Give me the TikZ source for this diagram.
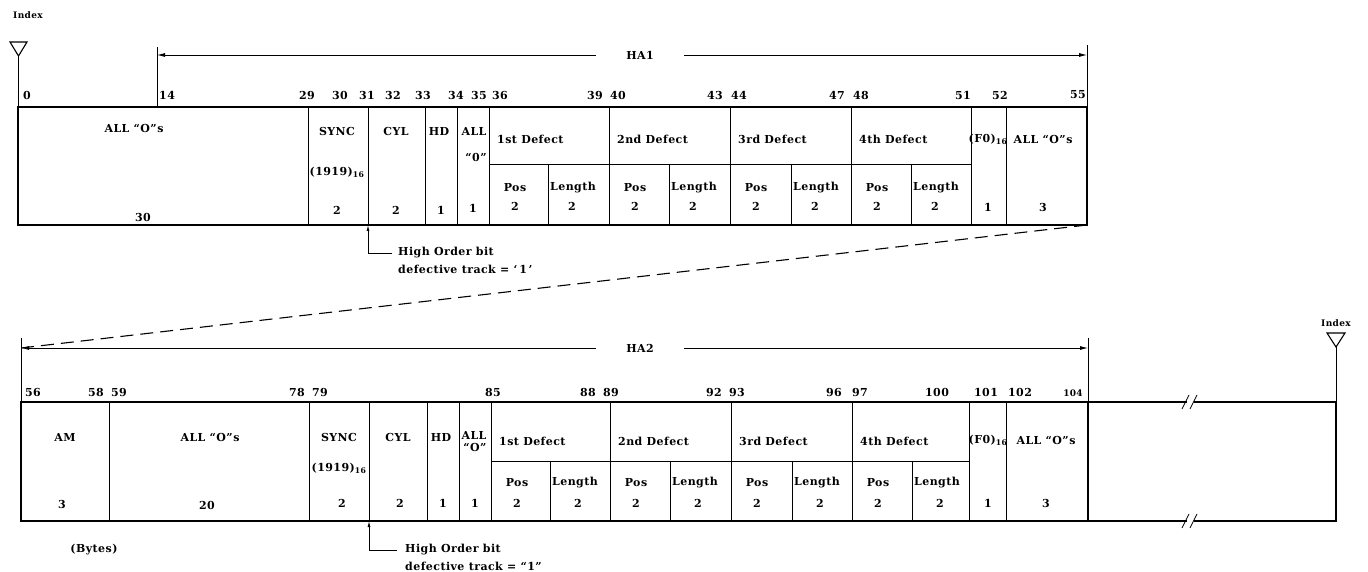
\documentclass[tikz,border=0pt]{standalone}
\usepackage{fontspec}
\setmainfont{DejaVu Serif}[LetterSpace=4]
\usetikzlibrary{arrows.meta}
\tikzset{
  rowbox/.style = {line width=1.5pt},
  sep/.style    = {line width=0.8pt},
  txt/.style    = {font=\fontsize{11}{12}\selectfont\bfseries, inner sep=0pt},
  tiny/.style   = {font=\fontsize{9}{10}\selectfont\bfseries, inner sep=0pt},
  span/.style   = {{Latex[length=8pt,width=4pt]}-{Latex[length=8pt,width=4pt]}, line width=0.8pt},
  tick/.style   = {line width=0.8pt},
  ptr/.style    = {-{Latex[length=6pt,width=3pt]}, line width=0.8pt},
  link/.style   = {line width=1.1pt, dash pattern=on 13pt off 7pt},
  idxmark/.style= {line width=1.1pt},
}
\begin{document}
\begin{tikzpicture}[x=1pt,y=-1pt]
  \useasboundingbox (0,0) rectangle (1368,572);

  % index marks
  \node[tiny] (idx1) at (28,15) {Index};
  \draw[idxmark] (10,42) -- (27,42) -- (18.5,56) coordinate (tri1) -- cycle;
  \node[tiny] (idx2) at (1336,323) {Index};
  \draw[idxmark] (1327,333) -- (1345,333) -- (1336,347) coordinate (tri2) -- cycle;

  % ---- first half (HA1) ----
  \coordinate (r1nw) at (18,107);
  \coordinate (r1se) at (1087,225);
  \coordinate (hb1)  at (368,225);
  \foreach \x in {308,368,425,457,489,609,730,851,971,1006}
    \draw[sep] (\x,107) -- (\x,225);
  \draw[sep] (489,164) -- (971,164);
  \foreach \x in {548,669,791,911}
    \draw[sep] (\x,164) -- (\x,225);
  \draw[rowbox] (r1nw) rectangle (r1se);
  \draw[tick] (tri1) -- (18.5,107);

  \coordinate (ha1l) at (157,55);
  \coordinate (ha1r) at (1087,55);
  \draw[tick] (157,47) -- (157,107);
  \draw[tick] (1087,45) -- (1087,107);
  \draw[span] (ha1l) -- (ha1r);
  \node[txt, fill=white, inner xsep=30pt, inner ysep=2pt] (ha1) at (640,55) {HA1};

  \node[txt] at (27,95) {0};
  \node[txt, anchor=west] at (159,95) {14};
  \foreach \x/\t in {307/29, 340/30, 367/31, 393/32, 423/33, 456/34, 479/35,
                     500/36, 595/39, 618/40, 715/43, 739/44, 837/47, 861/48,
                     963/51, 1000/52, 1078/55}
    \node[txt] at (\x,95) {\t};

  \node[txt] at (134,128) {ALL ``O''s};
  \node[txt] at (143,217) {30};
  \node[txt] at (337,131) {SYNC};
  \node[txt] at (337,172) {(1919)\textsubscript{16}};
  \node[txt] at (337,210) {2};
  \node[txt] at (396,131) {CYL};
  \node[txt] at (396,210) {2};
  \node[txt] at (439,131) {HD};
  \node[txt] at (441,210) {1};
  \node[txt] at (474,131) {ALL};
  \node[txt] at (476,157) {``0''};
  \node[txt] at (473,208) {1};
  \foreach \n/\a/\s in {1st/489/548, 2nd/609/669, 3rd/730/791, 4th/851/911} {
    \node[txt, anchor=west] at (\a+8,139) {\n\ Defect};
    \node[txt] at (\a+26,188) {Pos};
    \node[txt] at (\a+26,206) {2};
    \node[txt, anchor=west] at (\s+2,188) {Length};
    \node[txt] at (\s+24,206) {2};
  }
  \node[txt] at (988,139) {(F0)\textsubscript{16}};
  \node[txt] at (988,207) {1};
  \node[txt] at (1043,139) {ALL ``O''s};
  \node[txt] at (1043,207) {3};

  \node[txt, anchor=west] (hob1a) at (398,253) {High Order bit};
  \node[txt, anchor=west] (hob1b) at (398,269) {defective track = `\,1\,'};
  \draw[ptr, shorten <=6pt] (hob1a.west) -| (hb1);

  % ---- second half (HA2) ----
  \coordinate (r2nw) at (21,402);
  \coordinate (r2se) at (1088,521);
  \coordinate (hb2)  at (369,521);
  \foreach \x in {109,309,369,427,459,491,610,731,852,969,1006}
    \draw[sep] (\x,402) -- (\x,521);
  \draw[sep] (491,461) -- (969,461);
  \foreach \x in {550,670,792,912}
    \draw[sep] (\x,461) -- (\x,521);
  \draw[rowbox] (r2nw) rectangle (r2se);
  \draw[rowbox] (r2se) -- (1187,521);
  \draw[rowbox] (1194,521) -- (1336,521) -- (1336,402) -- (1194,402);
  \draw[rowbox] (1187,402) -- (1088,402);
  \foreach \y in {402,521} {
    \draw[sep] (1182,\y+7) -- (1189,\y-7);
    \draw[sep] (1190,\y+7) -- (1197,\y-7);
  }
  \draw[tick] (tri2) -- (1336,402);

  \coordinate (ha2l) at (21,348);
  \coordinate (ha2r) at (1088,348);
  \draw[tick] (21,338) -- (21,402);
  \draw[tick] (1088,338) -- (1088,402);
  \draw[span] (ha2l) -- (ha2r);
  \node[txt, fill=white, inner xsep=30pt, inner ysep=2pt] (ha2) at (640,348) {HA2};

  \draw[link] (r1se) -- (ha2l);

  \foreach \x/\t in {33/56, 96/58, 119/59, 297/78, 320/79, 493/85, 588/88,
                     611/89, 714/92, 737/93, 834/96, 860/97, 937/100,
                     986/101, 1020/102}
    \node[txt] at (\x,392) {\t};
  \node[tiny] at (1073,393) {104};

  \node[txt] at (65,437) {AM};
  \node[txt] at (62,504) {3};
  \node[txt] at (210,437) {ALL ``O''s};
  \node[txt] at (207,505) {20};
  \node[txt] at (339,437) {SYNC};
  \node[txt] at (339,468) {(1919)\textsubscript{16}};
  \node[txt] at (342,503) {2};
  \node[txt] at (398,437) {CYL};
  \node[txt] at (400,503) {2};
  \node[txt] at (441,437) {HD};
  \node[txt] at (443,503) {1};
  \node[txt] at (474,435) {ALL};
  \node[txt] at (475,447) {``O''};
  \node[txt] at (475,503) {1};
  \foreach \n/\a/\s in {1st/491/550, 2nd/610/670, 3rd/731/792, 4th/852/912} {
    \node[txt, anchor=west] at (\a+8,441) {\n\ Defect};
    \node[txt] at (\a+26,483) {Pos};
    \node[txt] at (\a+26,503) {2};
    \node[txt, anchor=west] at (\s+2,483) {Length};
    \node[txt] at (\s+28,503) {2};
  }
  \node[txt] at (988,440) {(F0)\textsubscript{16}};
  \node[txt] at (988,503) {1};
  \node[txt] at (1046,440) {ALL ``O''s};
  \node[txt] at (1046,503) {3};

  \node[txt] (bytes) at (94,550) {(Bytes)};

  \node[txt, anchor=west] (hob2a) at (405,550) {High Order bit};
  \node[txt, anchor=west] (hob2b) at (405,566) {defective track = ``1''};
  \draw[ptr, shorten <=8pt] (hob2a.west) -| (hb2);
\end{tikzpicture}
\end{document}
